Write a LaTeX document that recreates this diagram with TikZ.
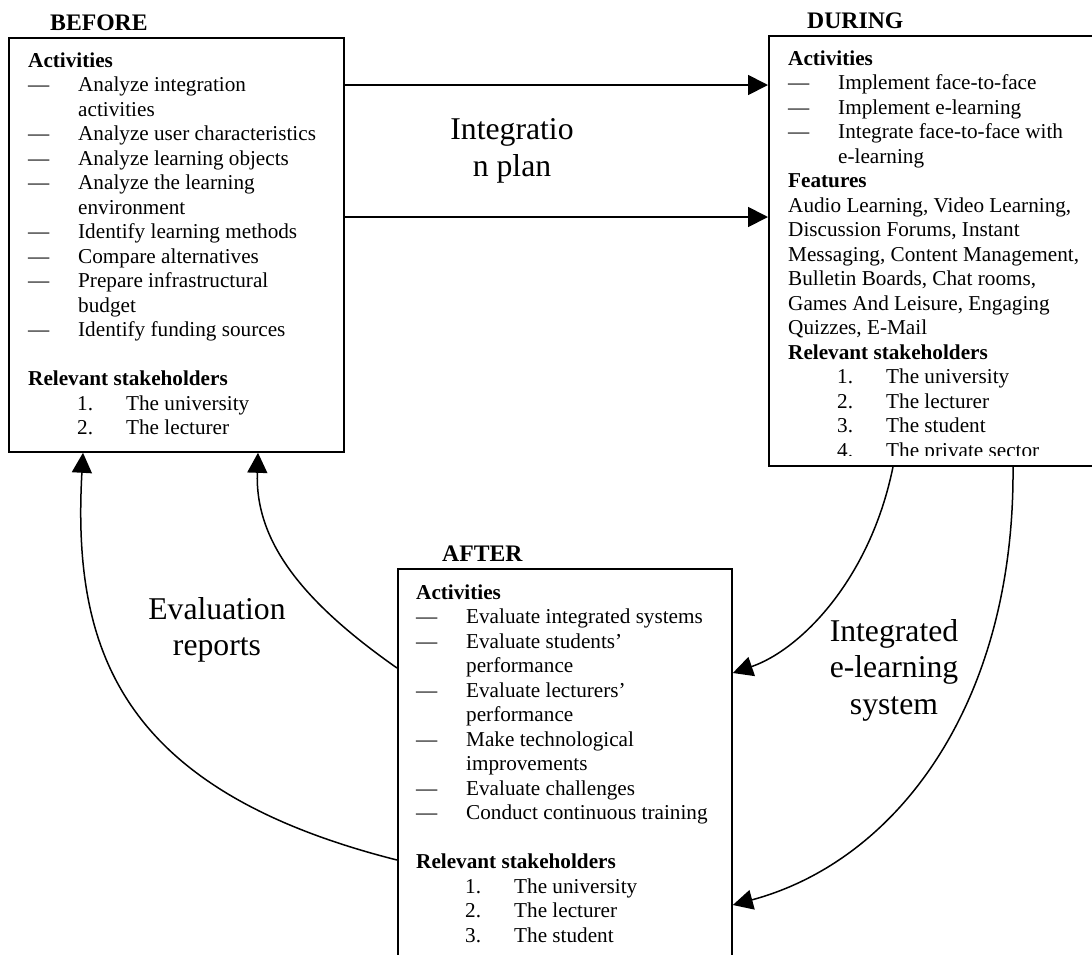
\documentclass[tikz,border=0pt]{standalone}
\usepackage{fontspec}
\setmainfont{Liberation Serif}
\usetikzlibrary{arrows.meta,calc}
\newcommand{\dsh}{\makebox[50pt][l]{---}}
\newcommand{\ind}{\hspace*{50pt}}
\newcommand{\numb}[1]{\hspace*{49pt}\makebox[49pt][l]{#1}}
\begin{document}
\begin{tikzpicture}[x=1pt,y=-1pt,
  box/.style={draw, line width=1.8pt, anchor=north west, inner sep=0pt},
  body/.style={font=\fontsize{21.2}{24.5}\selectfont, align=left, anchor=north west, inner sep=0pt},
  ttl/.style={font=\fontsize{23.7}{27}\selectfont\bfseries, anchor=base west, inner sep=0pt},
  lbl/.style={font=\fontsize{31.7}{36.5}\selectfont, align=center, inner sep=0pt},
  arr/.style={-{Triangle[length=20pt,width=20pt]}, line width=1.8pt},
  carr/.style={-{Triangle[length=20pt,width=20pt]}, line width=1.5pt}]
\useasboundingbox (0,0) rectangle (1092,954);

% boxes
\node[box, minimum width=335pt, minimum height=414pt] (before) at (8,37) {};
\node[box, minimum width=332pt, minimum height=430pt] (during) at (768,35) {};
\node[box, minimum width=334pt, minimum height=432pt] (after) at (397,568) {};

% titles
\node[ttl] (tbefore) at (50,30) {BEFORE};
\node[ttl] (tduring) at (807,28) {DURING};
\node[ttl] (tafter) at (442,561) {AFTER};

% BEFORE text
\node[body] (txbefore) at (28,49.85) {\strut\textbf{Activities}\\
\dsh Analyze integration\\
\ind activities\\
\dsh Analyze user characteristics\\
\dsh Analyze learning objects\\
\dsh Analyze the learning\\
\ind environment\\
\dsh Identify learning methods\\
\dsh Compare alternatives\\
\dsh Prepare infrastructural\\
\ind budget\\
\dsh Identify funding sources\\
\mbox{}\\
\textbf{Relevant stakeholders}\\
\numb{1.}The university\\
\numb{2.}The lecturer};

% DURING text (clipped at bottom)
\begin{scope}
\clip (760,30) rectangle (1092,455);
\node[body] (txduring) at (788,47.85) {\strut\textbf{Activities}\\
\dsh Implement face-to-face\\
\dsh Implement e-learning\\
\dsh Integrate face-to-face with\\
\ind e-learning\\
\textbf{Features}\\
Audio Learning, Video Learning,\\
Discussion Forums, Instant\\
Messaging, Content Management,\\
Bulletin Boards, Chat rooms,\\
Games And Leisure, Engaging\\
Quizzes, E-Mail\\
\textbf{Relevant stakeholders}\\
\numb{1.}The university\\
\numb{2.}The lecturer\\
\numb{3.}The student\\
\numb{4.}The private sector};
\end{scope}

% AFTER text
\node[body] (txafter) at (416,581.85) {\strut\textbf{Activities}\\
\dsh Evaluate integrated systems\\
\dsh Evaluate students'\\
\ind performance\\
\dsh Evaluate lecturers'\\
\ind performance\\
\dsh Make technological\\
\ind improvements\\
\dsh Evaluate challenges\\
\dsh Conduct continuous training\\
\mbox{}\\
\textbf{Relevant stakeholders}\\
\numb{1.}The university\\
\numb{2.}The lecturer\\
\numb{3.}The student};

% connector labels
\node[lbl] (lplan) at (512,151) {Integratio\\n plan};
\node[lbl] (leval) at (217,630) {Evaluation\\reports};
\node[lbl] (lsys) at (894,670) {Integrated\\e-learning\\system};

% straight arrows BEFORE -> DURING
\draw[arr] ($(before.north east)+(0,48)$) -- ($(during.north west)+(0,50)$);
\draw[arr] ($(before.north east)+(0,180)$) -- ($(during.north west)+(0,182)$);

% DURING -> AFTER
\draw[carr] ($(during.south west)+(125,0)$) .. controls (870,580) and (800,650) .. ($(after.north east)+(0,105)$);
\draw[carr] ($(during.south west)+(245,0)$) .. controls (1015,700) and (900,860) .. ($(after.north east)+(0,337)$);

% AFTER -> BEFORE
\draw[carr] ($(after.north west)+(0,100)$) .. controls (300,600) and (255,540) .. ($(before.south west)+(250,0)$);
\draw[carr] ($(after.north west)+(0,292)$) .. controls (120,790) and (72,650) .. ($(before.south west)+(75,0)$);
\end{tikzpicture}
\end{document}
